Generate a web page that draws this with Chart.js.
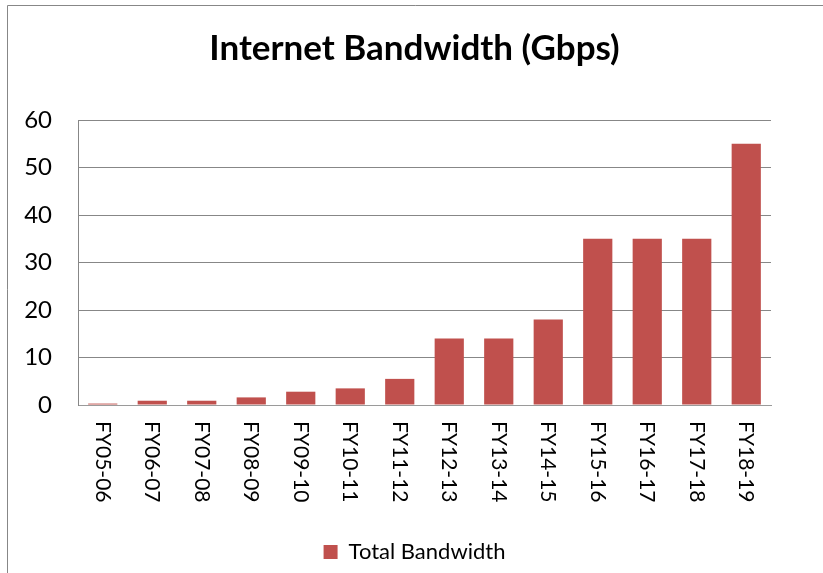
<!DOCTYPE html>
<html>
<head>
<meta charset="utf-8">
<title>Internet Bandwidth (Gbps)</title>
<script src="https://cdn.jsdelivr.net/npm/chart.js@4.4.1/dist/chart.umd.min.js"></script>
<style>
  html, body { margin: 0; padding: 0; background: #fff; }
  #wrap { position: relative; width: 823px; height: 573px; }
</style>
</head>
<body>
<div id="wrap"><canvas id="chart" width="823" height="573"></canvas></div>
<script>
// Data
const categories = [
  'FY05-06', 'FY06-07', 'FY07-08', 'FY08-09', 'FY09-10', 'FY10-11', 'FY11-12',
  'FY12-13', 'FY13-14', 'FY14-15', 'FY15-16', 'FY16-17', 'FY17-18', 'FY18-19',
];
const bandwidth = [0.3, 0.9, 0.9, 1.6, 2.8, 3.5, 5.5, 14, 14, 18, 35, 35, 35, 55];
const yTicks = [0, 10, 20, 30, 40, 50, 60];

const BAR = '#C0504D';
const GRID = '#878787';
const FONT = 'Lato, "Open Sans", sans-serif';

Chart.defaults.font.family = FONT;
Chart.defaults.color = '#000';

// outer frame of the chart object (only left and top edges are in view)
const framePlugin = {
  id: 'frame',
  beforeDraw(chart) {
    const ctx = chart.ctx;
    ctx.save();
    ctx.strokeStyle = GRID;
    ctx.lineWidth = 1;
    ctx.beginPath();
    ctx.moveTo(7.5, chart.height);
    ctx.lineTo(7.5, 5.5);
    ctx.lineTo(chart.width, 5.5);
    ctx.stroke();
    ctx.restore();
  },
};

// tick labels drawn by hand: the y labels sit left of a narrow axis box,
// the category labels read top-to-bottom (rotated clockwise)
const axisLabelsPlugin = {
  id: 'axisLabels',
  afterDraw(chart) {
    const ctx = chart.ctx;
    const { x, y } = chart.scales;
    const area = chart.chartArea;
    ctx.save();
    ctx.fillStyle = '#000';

    ctx.font = '24px ' + FONT;
    ctx.textAlign = 'right';
    ctx.textBaseline = 'middle';
    yTicks.forEach(v => {
      ctx.fillText(String(v), area.left - 26, y.getPixelForValue(v));
    });

    ctx.font = '21px ' + FONT;
    ctx.textAlign = 'left';
    const top = area.bottom + 16;
    categories.forEach((label, i) => {
      ctx.save();
      ctx.translate(x.getPixelForTick(i), top);
      ctx.rotate(Math.PI / 2);
      ctx.fillText(label, 0, 0);
      ctx.restore();
    });
    ctx.restore();
  },
};

new Chart(document.getElementById('chart'), {
  type: 'bar',
  data: {
    labels: categories,
    datasets: [{
      label: 'Total Bandwidth',
      data: bandwidth,
      backgroundColor: BAR,
      borderWidth: 0,
      categoryPercentage: 1,
      barPercentage: 0.59,
    }],
  },
  options: {
    responsive: false,
    animation: false,
    layout: { padding: { left: 58, right: 52, top: 0, bottom: 0 } },
    plugins: {
      title: {
        display: true,
        text: 'Internet Bandwidth (Gbps)',
        color: '#000',
        font: { size: 35, weight: 'bold' },
        padding: { top: 28, bottom: 50 },
      },
      legend: {
        position: 'bottom',
        labels: {
          boxWidth: 14,
          boxHeight: 14,
          padding: 10,
          color: '#000',
          font: { size: 22 },
        },
      },
      tooltip: { enabled: false },
    },
    scales: {
      x: {
        grid: { display: false, drawTicks: false },
        border: { color: '#9a9a9a', width: 1 },
        ticks: { display: false },
        afterFit(scale) { scale.height = 126; },
      },
      y: {
        min: yTicks[0],
        max: yTicks[yTicks.length - 1],
        grid: { color: GRID, drawTicks: false },
        border: { color: GRID },
        ticks: { stepSize: 10, display: false },
        afterFit(scale) { scale.width = 20; },
      },
    },
  },
  plugins: [framePlugin, axisLabelsPlugin],
});
</script>
</body>
</html>
